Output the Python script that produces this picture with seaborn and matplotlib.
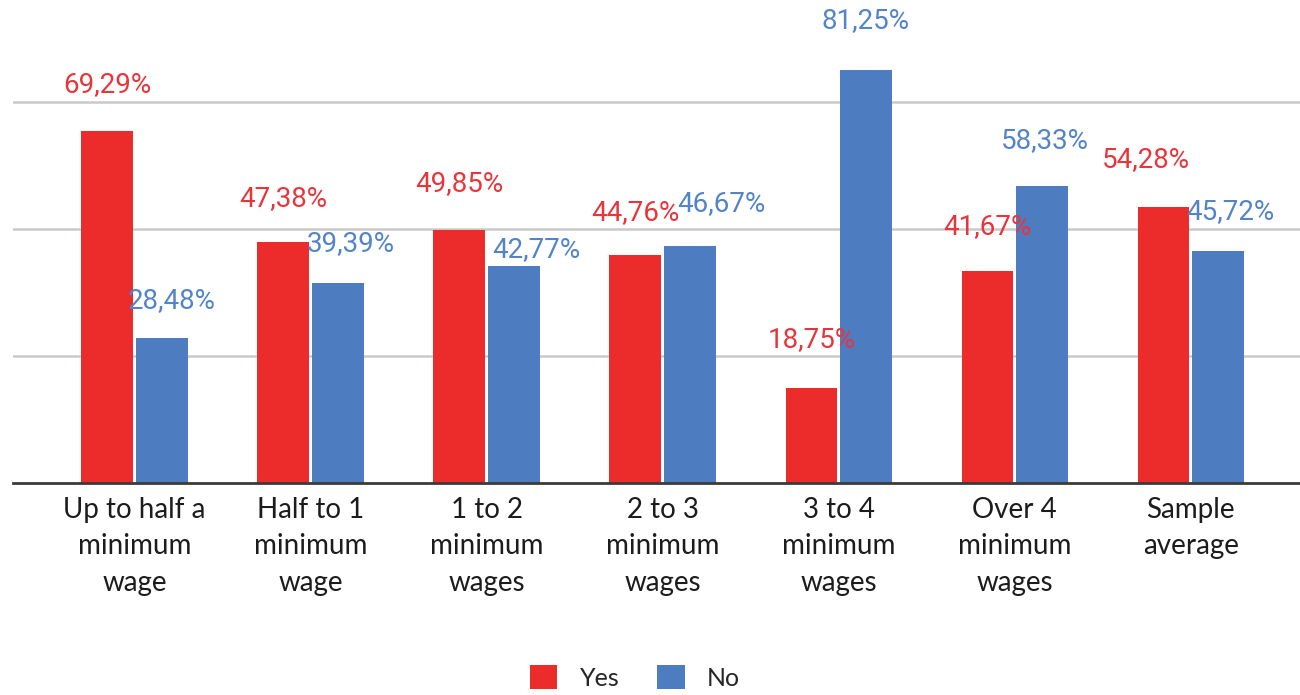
import matplotlib
matplotlib.use("Agg")
import matplotlib.pyplot as plt
import pandas as pd
import seaborn as sns

# Income brackets and share of answers per bracket
categories = [
    "Up to half a\nminimum\nwage",
    "Half to 1\nminimum\nwage",
    "1 to 2\nminimum\nwages",
    "2 to 3\nminimum\nwages",
    "3 to 4\nminimum\nwages",
    "Over 4\nminimum\nwages",
    "Sample\naverage",
]
yes_values = [69.29, 47.38, 49.85, 44.76, 18.75, 41.67, 54.28]
no_values = [28.48, 39.39, 42.77, 46.67, 81.25, 58.33, 45.72]
series = ["Yes", "No"]
gridlines = [25, 50, 75]

bar_colors = {"Yes": "#EC2B2B", "No": "#4D7CC0"}
text_colors = {"Yes": "#E8353B", "No": "#5384C7"}

# Label offsets (pixels) from the top centre of each bar
label_dx = {
    "Yes": [0, 0, 0, 0, 0, 0, -18],
    "No": [10, 13, 22, 31, 0, 3, 12],
}
label_dy = {
    "Yes": [46, 44, 46, 43, 48, 45, 48],
    "No": [38, 39, 16, 42, 49, 46, 39],
}

df = pd.DataFrame({
    "category": categories * 2,
    "answer": ["Yes"] * len(categories) + ["No"] * len(categories),
    "share": yes_values + no_values,
})

sns.set_theme(style="white")
plt.rcParams["font.family"] = ["Roboto", "DejaVu Sans"]

fig = plt.figure(figsize=(13, 6.95), dpi=100)
ax = fig.add_axes([0.01, 0.305, 0.99, 0.695])

sns.barplot(
    data=df, x="category", y="share", hue="answer",
    hue_order=series, order=categories, palette=bar_colors,
    width=0.62, gap=0.05, saturation=1, errorbar=None,
    linewidth=0, ax=ax, legend=True,
)

for y in gridlines:
    ax.axhline(y, color="#C9C9C9", lw=1.8, zorder=0)

ax.set_ylim(0, 95)
ax.set_xlim(-0.69, 6.62)
ax.set_yticks([])
ax.set_ylabel("")
ax.set_xlabel("")
for side in ["top", "right", "left"]:
    ax.spines[side].set_visible(False)
ax.spines["bottom"].set_color("#3A3A3A")
ax.spines["bottom"].set_linewidth(2)
ax.tick_params(axis="x", length=0, pad=10)
for lbl in ax.get_xticklabels():
    lbl.set_fontfamily(["Lato", "DejaVu Sans"])
    lbl.set_fontsize(20)
    lbl.set_color("#1C1C1C")
    lbl.set_linespacing(1.5)

# Value labels above each bar
for name, container in zip(series, ax.containers):
    for i, bar in enumerate(container):
        h = bar.get_height()
        ax.annotate(
            f"{h:.2f}%".replace(".", ","),
            xy=(bar.get_x() + bar.get_width() / 2, h),
            xytext=(label_dx[name][i], label_dy[name][i]),
            textcoords="offset pixels",
            ha="center", va="center",
            fontsize=20, color=text_colors[name],
        )

handles, labels = ax.get_legend_handles_labels()
ax.get_legend().remove()
fig.legend(
    handles, labels, loc="lower center", bbox_to_anchor=(0.4885, -0.025),
    ncol=2, frameon=False, handlelength=1.1, handleheight=1.1,
    handletextpad=0.9, columnspacing=1.5,
    prop={"family": ["Lato", "DejaVu Sans"], "size": 18},
)

fig.savefig("out.png", dpi=100, facecolor="white")
